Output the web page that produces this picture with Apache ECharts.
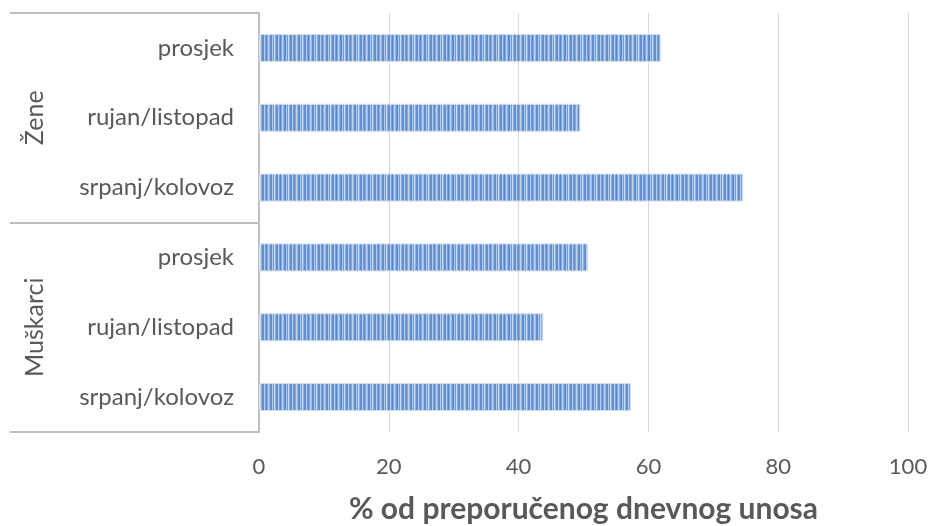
<!DOCTYPE html>
<html>
<head>
<meta charset="utf-8">
<script src="https://cdn.jsdelivr.net/npm/echarts@6/dist/echarts.min.js"></script>
<style>html,body{margin:0;padding:0;background:#fff}#c{width:935px;height:526px}</style>
</head>
<body>
<div id="c"></div>
<script>
// Categories listed bottom-to-top (ECharts category y axis starts at the bottom)
const categories = ['srpanj/kolovoz', 'rujan/listopad', 'prosjek', 'srpanj/kolovoz', 'rujan/listopad', 'prosjek'];
const groups = ['Muškarci', 'Žene'];
const values = [57.3, 43.8, 50.7, 74.6, 49.5, 61.9];
const xTicks = { min: 0, max: 100, interval: 20 };
const axisTitle = '% od preporučenog dnevnog unosa';

// striped fill pattern
const pc = document.createElement('canvas');
const stripeCols = ['#5a88cb', '#86a9dc', '#c0d2ec', '#9ab8e2', '#5f8dcd', '#b0c7e8', '#729ad3', '#ccdcf1', '#8cadde', '#6590cf', '#b3cae9', '#7ca1d7'];
const widths = [1, 1, 1, 1, 2, 1, 1, 1, 1, 2, 1, 1];
pc.width = widths.reduce((a, b) => a + b, 0); pc.height = 40;
const pctx = pc.getContext('2d');
let xx = 0;
stripeCols.forEach((c, i) => { pctx.fillStyle = c; pctx.fillRect(xx, 0, widths[i], 40); xx += widths[i]; });

const chart = echarts.init(document.getElementById('c'), null, { renderer: 'canvas' });
const font = 'Lato';
chart.setOption({
  animation: false,
  grid: { left: 259, right: 27, top: 13, bottom: 94, containLabel: false, outerBoundsMode: 'none' },
  xAxis: {
    type: 'value', min: xTicks.min, max: xTicks.max, interval: xTicks.interval,
    axisLine: { show: false }, axisTick: { show: false },
    splitLine: { lineStyle: { color: '#d9d9d9', width: 1 } },
    axisLabel: { color: '#595959', fontSize: 22, fontFamily: font, margin: 24 },
    name: axisTitle, nameLocation: 'middle', nameGap: 62,
    nameTextStyle: { color: '#595959', fontSize: 30, fontWeight: 'bold', fontFamily: font }
  },
  yAxis: [
    {
      type: 'category', data: categories,
      axisLine: { show: false }, axisTick: { show: false },
      axisLabel: { color: '#595959', fontSize: 24, fontFamily: font, margin: 25 }
    },
    {
      type: 'category', data: groups, position: 'left',
      axisLine: { show: true, lineStyle: { color: '#bfbfbf', width: 2 } },
      axisTick: { show: true, length: 249, lineStyle: { color: '#bfbfbf', width: 2 } },
      axisLabel: { color: '#595959', fontSize: 25, fontFamily: font, rotate: 90, margin: 212 }
    }
  ],
  series: [{
    type: 'bar', yAxisIndex: 0, data: values, barWidth: 28,
    itemStyle: { color: { image: pc, repeat: 'repeat' }, borderColor: '#d3e0f2', borderWidth: 1 }
  }]
});
</script>
</body>
</html>
